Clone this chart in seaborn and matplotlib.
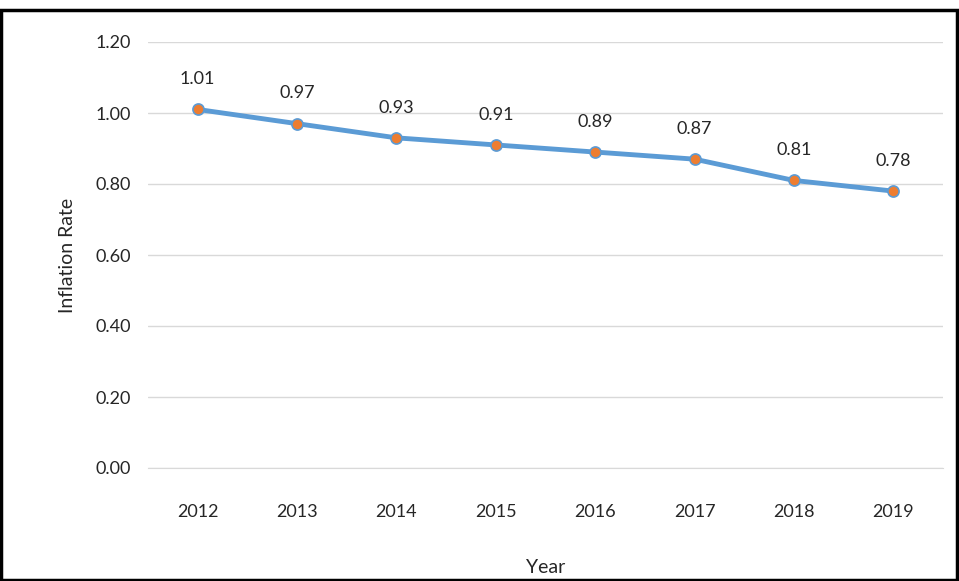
import matplotlib.pyplot as plt
import seaborn as sns
import pandas as pd
from matplotlib.patches import Rectangle

years = ["2012", "2013", "2014", "2015", "2016", "2017", "2018", "2019"]
rates = [1.01, 0.97, 0.93, 0.91, 0.89, 0.87, 0.81, 0.78]
df = pd.DataFrame({"Year": years, "Rate": rates})

sns.set_style("white")
plt.rcParams["font.family"] = ["Lato", "DejaVu Sans"]

fig = plt.figure(figsize=(9.59, 5.81), dpi=100)
ax = fig.add_axes([148 / 959, 1 - 468 / 581, (943 - 148) / 959, (468 - 42) / 581])
sns.lineplot(data=df, x="Year", y="Rate", ax=ax, color="#5B9BD5", linewidth=3.5,
             marker="o", markersize=8, markerfacecolor="#ED7D31",
             markeredgecolor="#5B9BD5", markeredgewidth=1.2)
for i, v in enumerate(rates):
    ax.annotate(f"{v:.2f}", (i, v), textcoords="offset points", xytext=(0, 16),
                ha="center", va="bottom", fontsize=13)

ax.set_xlim(-0.5, len(years) - 0.5)
ax.set_ylim(0, 1.2)
ax.set_yticks([0, 0.2, 0.4, 0.6, 0.8, 1.0, 1.2])
ax.set_yticklabels([f"{t:.2f}" for t in ax.get_yticks()])
ax.grid(axis="y", color="#D9D9D9", linewidth=1)
for s in ["top", "right", "left"]:
    ax.spines[s].set_visible(False)
ax.spines["bottom"].set_color("#D9D9D9")
ax.tick_params(axis="both", length=0, labelsize=13)
ax.tick_params(axis="x", pad=26)
ax.tick_params(axis="y", pad=12)
ax.set_xlabel("Year", fontsize=14, labelpad=28)
ax.set_ylabel("Inflation Rate", fontsize=14, labelpad=14)

fig.patches.append(Rectangle((1 / 959, 0.002), 956 / 959, 1 - 11 / 581, transform=fig.transFigure,
                             fill=False, edgecolor="black", linewidth=2.5))
fig.savefig("out.png", dpi=100)
